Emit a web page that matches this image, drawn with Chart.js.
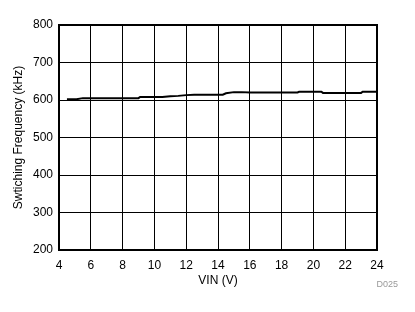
<!DOCTYPE html>
<html><head><meta charset="utf-8">
<script src="https://cdn.jsdelivr.net/npm/chart.js@4/dist/chart.umd.min.js"></script>
<style>html,body{margin:0;padding:0;background:#fff}#wrap{width:415px;height:312px}</style>
</head><body><div id="wrap"><canvas id="c" width="415" height="312"></canvas></div>
<script>
const vin = [4.5,5.1,5.5,6,7,8,9,9.1,9.5,10,10.5,11,11.5,12,12.5,13,13.5,14,14.3,14.5,15,15.5,16,17,18,19,19.1,20,20.5,20.6,21,22,23,23.1,24];
const freq = [602,602,605,605,605,605,605,608,608,608,608,610,611,613,614,614,614,614,614,618,621,621,620,620,620,620,622,622,622,619,619,619,619,622,622];
const xTicks = [4,6,8,10,12,14,16,18,20,22,24];
const yTicks = [200,300,400,500,600,700,800];
const font = {family:'"Liberation Sans", Arial, sans-serif', size:12};
const framePlugin = {
  id:'frame',
  afterDraw(chart){
    const {ctx, chartArea:a} = chart;
    ctx.save();
    ctx.strokeStyle='#000'; ctx.lineWidth=2;
    ctx.strokeRect(a.left, a.top, a.right-a.left, a.bottom-a.top);
    ctx.fillStyle='#999'; ctx.font='9px "Liberation Sans", Arial, sans-serif';
    ctx.textAlign='right'; ctx.textBaseline='middle';
    ctx.fillText('D025', 398, 285);
    ctx.restore();
  }
};
new Chart(document.getElementById('c'), {
  type:'line',
  data:{datasets:[{data: vin.map((x,i)=>({x, y:freq[i]})), borderColor:'#000', borderWidth:2, pointRadius:0, tension:0}]},
  options:{
    responsive:false, animation:false,
    layout:{padding:{left:11,right:38,top:25,bottom:24}},
    plugins:{legend:{display:false}, tooltip:{enabled:false}},
    scales:{
      x:{type:'linear', min:4, max:24,
        afterBuildTicks(s){ s.ticks = xTicks.map(v=>({value:v})); },
        afterFit(s){ s.height = 38; },
        grid:{color:'#000', lineWidth:1, drawTicks:false},
        border:{display:false},
        ticks:{color:'#000', font, padding:8, maxRotation:0},
        title:{display:true, text:'VIN (V)', color:'#000', font, padding:{top:0,bottom:0}}
      },
      y:{type:'linear', min:200, max:800,
        afterBuildTicks(s){ s.ticks = yTicks.map(v=>({value:v})); },
        afterFit(s){ s.width = 48; },
        grid:{color:'#000', lineWidth:1, drawTicks:false},
        border:{display:false},
        ticks:{color:'#000', font, padding:6},
        title:{display:true, text:'Swtiching Frequency (kHz)', color:'#000', font, padding:{top:0,bottom:0}}
      }
    }
  },
  plugins:[framePlugin]
});
</script></body></html>
